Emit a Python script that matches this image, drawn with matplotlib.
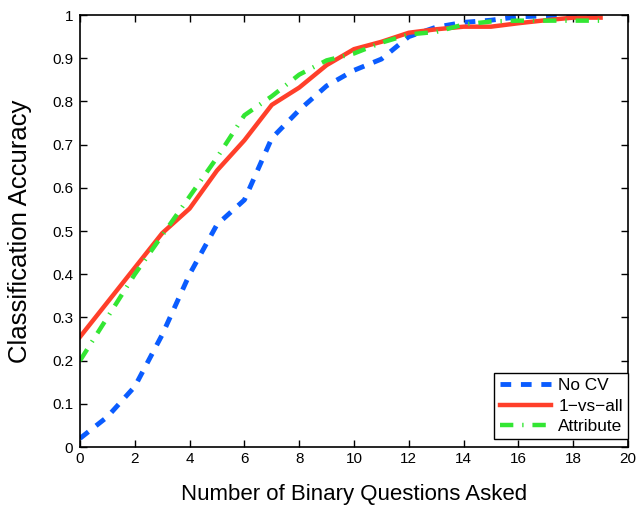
import numpy as np
import matplotlib
matplotlib.use('Agg')
import matplotlib.pyplot as plt

plt.rcParams['font.family'] = ['Liberation Sans', 'DejaVu Sans']

# number of questions asked
questions = list(range(20))

# accuracy curves
no_cv = [0.02, 0.07, 0.14, 0.26, 0.40, 0.515, 0.572, 0.715, 0.78, 0.836,
         0.872, 0.898, 0.95, 0.972, 0.983, 0.988, 0.996, 0.998, 1.0, 1.0]
one_vs_all = [0.255, 0.335, 0.415, 0.495, 0.552, 0.64, 0.71, 0.792, 0.832, 0.884,
              0.921, 0.938, 0.959, 0.967, 0.973, 0.973, 0.981, 0.988, 0.994, 0.994]
attribute = [0.20, 0.30, 0.40, 0.49, 0.58, 0.67, 0.768, 0.812, 0.862, 0.895,
             0.911, 0.936, 0.955, 0.961, 0.978, 0.985, 0.987, 0.987, 0.987, 0.987]

labels = ['No CV', '1\u2212vs\u2212all', 'Attribute']
colors = ['#0a5cff', '#ff3f2a', '#33e633']

fig = plt.figure(figsize=(6.36, 5.11), dpi=100)
ax = fig.add_axes([0.1258, 0.1252, 0.8616, 0.8454])

ax.plot(questions, no_cv, '--', color=colors[0], linewidth=3.5, dashes=(2.2, 2.0), label=labels[0])
ax.plot(questions, one_vs_all, '-', color=colors[1], linewidth=3.2, label=labels[1])
ax.plot(questions, attribute, '-.', color=colors[2], linewidth=3.2, dashes=(3, 2, 0.3, 2), label=labels[2])

ax.set_xlim(0, 20)
ax.set_ylim(0, 1)
ax.set_xticks(np.arange(0, 21, 2))
ax.set_yticks(np.arange(0, 1.01, 0.1))
ax.set_yticklabels(['0', '0.1', '0.2', '0.3', '0.4', '0.5', '0.6', '0.7', '0.8', '0.9', '1'])
ax.tick_params(direction='in', top=True, right=True, labelsize=11, length=5, width=1)
ax.tick_params(axis='y', pad=5)
for s in ax.spines.values():
    s.set_linewidth(1.2)

ax.set_xlabel('Number of Binary Questions Asked', fontsize=16, labelpad=13)
ax.set_ylabel('Classification Accuracy', fontsize=18.5, labelpad=14)

leg = ax.legend(loc='lower right', bbox_to_anchor=(1.0, 8 / 432), fontsize=12.4,
                fancybox=False, edgecolor='black', framealpha=1, borderpad=0.3,
                labelspacing=0.3, handlelength=3.0, handletextpad=0.4, borderaxespad=0)
leg.get_frame().set_linewidth(1)

fig.savefig('out.png', dpi=100)
